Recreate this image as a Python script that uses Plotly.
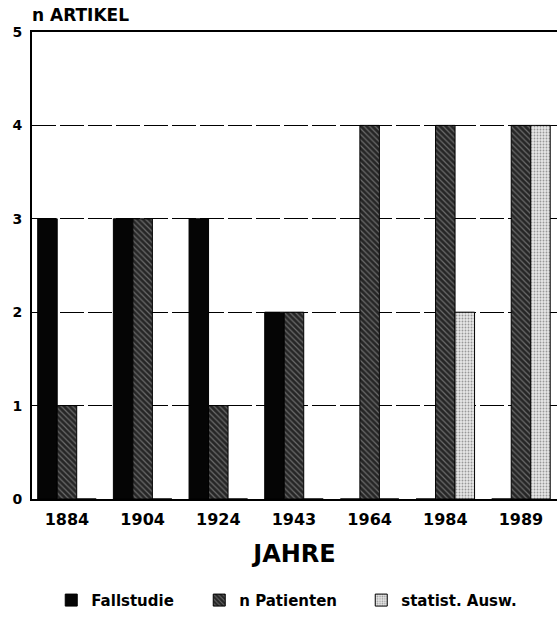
import plotly.graph_objects as go

years = ["1884", "1904", "1924", "1943", "1964", "1984", "1989"]
fallstudie = [3, 3, 3, 2, 0, 0, 0]
n_patienten = [1, 3, 1, 2, 4, 4, 4]
statist_ausw = [0, 0, 0, 0, 0, 2, 4]

FONT = "DejaVu Sans"

fig = go.Figure()
fig.add_trace(go.Bar(
    x=years, y=fallstudie, name="<b>Fallstudie</b>", legendwidth=103,
    marker=dict(color="#050505", line=dict(color="black", width=1)),
))
fig.add_trace(go.Bar(
    x=years, y=n_patienten, name="<b>n Patienten</b>", legendwidth=117,
    marker=dict(color="#2a2a2a", line=dict(color="black", width=1),
                pattern=dict(shape="\\", fgcolor="#b0b0b0", bgcolor="#262626",
                             size=4, solidity=0.3)),
))
fig.add_trace(go.Bar(
    x=years, y=statist_ausw, name="<b>statist. Ausw.</b>", legendwidth=117,
    marker=dict(color="#dddddd", line=dict(color="black", width=1),
                pattern=dict(shape=".", fgcolor="#4a4a4a", bgcolor="#e6e6e6",
                             size=3, solidity=0.3)),
))

fig.update_layout(
    width=557, height=617,
    margin=dict(l=32, r=0, t=32, b=118),
    paper_bgcolor="white", plot_bgcolor="white",
    barmode="group", bargap=0.227, bargroupgap=0,
    font=dict(family=FONT, color="black", size=14),
    showlegend=True,
    legend=dict(orientation="h", xref="container", yref="container",
                x=0.092, xanchor="left", y=0.027, yanchor="middle",
                font=dict(size=15, family=FONT), traceorder="normal",
                entrywidthmode="pixels"),
    xaxis=dict(
        type="category", range=[-0.462, 6.476],
        showline=True, linecolor="black", linewidth=2, mirror=True,
        showgrid=False, ticks="", ticklabelstandoff=5,
        tickfont=dict(size=16, family=FONT, weight="bold"),
        title=dict(text="<b>JAHRE</b>", font=dict(size=24, family=FONT), standoff=17),
    ),
    yaxis=dict(
        range=[0, 5], dtick=1, tick0=0,
        showline=True, linecolor="black", linewidth=2,
        showgrid=True, gridcolor="black", gridwidth=1, griddash="24px,4px",
        zeroline=False, ticks="", ticklabelstandoff=5,
        tickfont=dict(size=14, family=FONT, weight="bold"),
    ),
    annotations=[dict(text="<b>n ARTIKEL</b>", xref="paper", yref="paper",
                      x=0, y=1.0, xanchor="left", yanchor="bottom", yshift=5, xshift=-2,
                      showarrow=False, font=dict(size=17, family=FONT))],
)

fig.write_html("out.html", config={"displayModeBar": False},
               post_script="document.body.style.margin='0';")
